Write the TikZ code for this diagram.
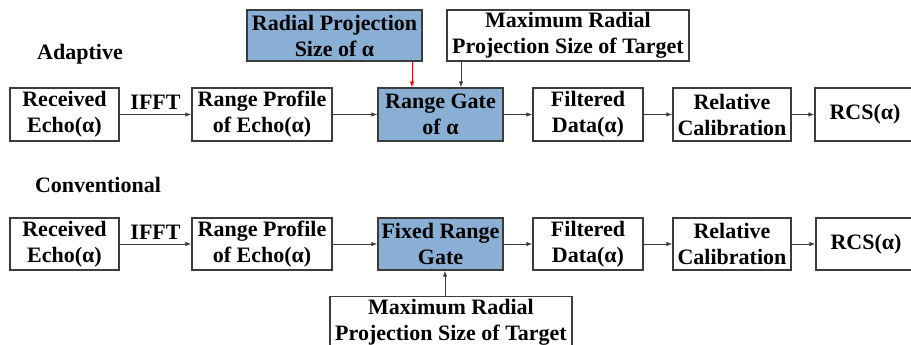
\documentclass[tikz,border=0pt]{standalone}
\usepackage{fontspec}
\setmainfont{Liberation Serif}
\usetikzlibrary{arrows.meta}

\definecolor{gateblue}{RGB}{138,175,212}
\definecolor{boxgray}{RGB}{60,60,60}

\tikzset{
    block/.style={
        draw=boxgray,
        line width=1.3pt,
        fill=white,
        inner sep=0pt,
        align=center,
        font=\fontsize{22}{26}\selectfont\bfseries
        },
    blueblock/.style={block, fill=gateblue},
    flow/.style={
        draw=boxgray,
        line width=1pt,
        -{Latex[length=6pt,width=4.5pt]}
        },
    caption/.style={font=\fontsize{22}{26}\selectfont\bfseries}
}

\begin{document}
\begin{tikzpicture}[x=1pt,y=-1pt]
    \useasboundingbox (0,0) rectangle (911,345);

    % Titles:
    \node[caption] (adaptive) at (80,54) {Adaptive};
    \node[caption] (conventional) at (98,185) {Conventional};

    % Adaptive chain:
    \node[block, minimum width=109pt, minimum height=53pt] (recA) at (64.5,114.5)
        {Received\\Echo(α)};
    \node[block, minimum width=140pt, minimum height=53pt] (profA) at (262,114.5)
        {Range Profile\\of Echo(α)};
    \node[blueblock, minimum width=125pt, minimum height=53pt] (gateA) at (440.5,114.5)
        {Range Gate\\of α};
    \node[block, minimum width=110pt, minimum height=53pt] (filtA) at (588,114.5)
        {Filtered\\Data(α)};
    \node[block, minimum width=118pt, minimum height=53pt] (calA) at (732,114.5)
        {Relative\\Calibration};
    \node[block, minimum width=100pt, minimum height=53pt] (rcsA) at (865,114.5)
        {RCS(α)};

    % inputs of the adaptive gate
    \node[blueblock, minimum width=175pt, minimum height=51pt] (radial) at (334.5,35.5)
        {Radial Projection\\Size of α};
    \node[block, minimum width=242pt, minimum height=51pt] (maxA) at (568,35.5)
        {Maximum Radial\\Projection Size of Target};

    \draw[flow] (recA) -- node[caption, above, yshift=1pt] (ifftA) {IFFT} (profA);
    \draw[flow] (profA) -- (gateA);
    \draw[flow] (gateA) -- (filtA);
    \draw[flow] (filtA) -- (calA);
    \draw[flow] (calA) -- (rcsA);
    \draw[flow, draw=red] (radial.south -| 412,0) -- (gateA.north -| 412,0);
    \draw[flow] (maxA.south -| 461,0) -- (gateA.north -| 461,0);

    % Conventional chain:
    \node[block, minimum width=109pt, minimum height=52pt] (recC) at (64.5,244)
        {Received\\Echo(α)};
    \node[block, minimum width=140pt, minimum height=52pt] (profC) at (262,244)
        {Range Profile\\of Echo(α)};
    \node[blueblock, minimum width=125pt, minimum height=52pt] (gateC) at (440.5,244)
        {Fixed Range\\Gate};
    \node[block, minimum width=110pt, minimum height=52pt] (filtC) at (588,244)
        {Filtered\\Data(α)};
    \node[block, minimum width=118pt, minimum height=52pt] (calC) at (732,244)
        {Relative\\Calibration};
    \node[block, minimum width=100pt, minimum height=52pt] (rcsC) at (866,244)
        {RCS(α)};

    \node[block, minimum width=242pt, minimum height=51pt] (maxC) at (451,322)
        {Maximum Radial\\Projection Size of Target};

    \draw[flow] (recC) -- node[caption, above, yshift=1pt] (ifftC) {IFFT} (profC);
    \draw[flow] (profC) -- (gateC);
    \draw[flow] (gateC) -- (filtC);
    \draw[flow] (filtC) -- (calC);
    \draw[flow] (calC) -- (rcsC);
    \draw[flow] (maxC.north -| 445,0) -- (gateC.south -| 445,0);
\end{tikzpicture}
\end{document}
